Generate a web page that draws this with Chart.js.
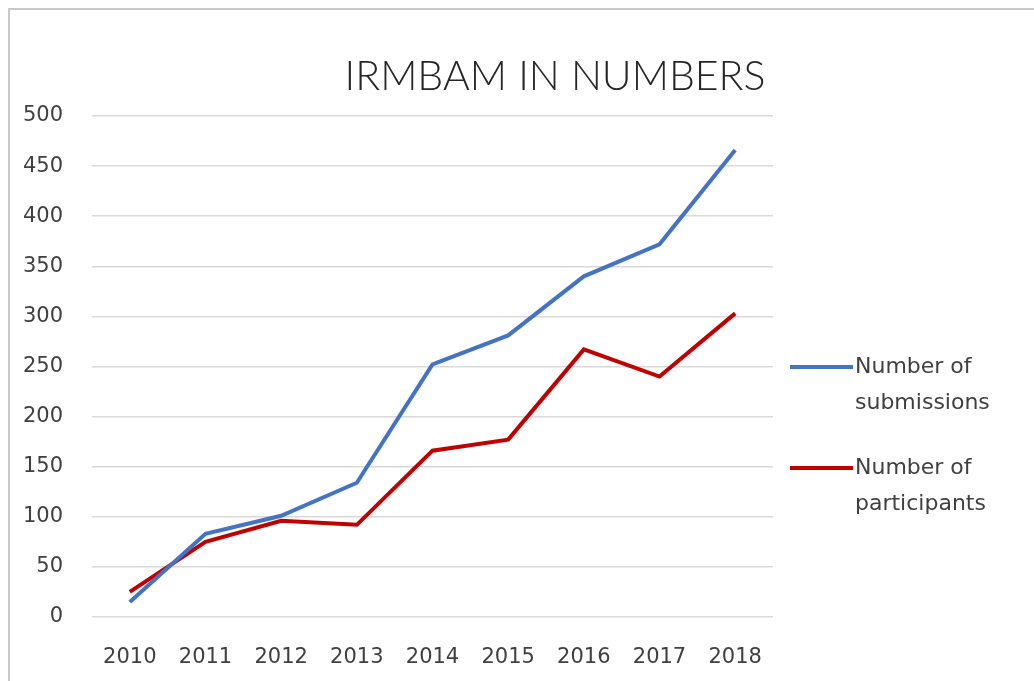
<!DOCTYPE html>
<html>
<head>
<meta charset="utf-8">
<script src="https://cdn.jsdelivr.net/npm/chart.js@4"></script>
<style>
  html, body { margin: 0; padding: 0; background: #fff; }
  #frame {
    position: absolute; left: 8px; top: 8px; width: 1100px; height: 720px;
    border-left: 2px solid #c8c8c8; border-top: 2px solid #c8c8c8;
  }
  #wrap { position: absolute; left: 0; top: 0; width: 1034px; height: 681px; }
</style>
</head>
<body>
<div id="frame"></div>
<div id="wrap"><canvas id="chart"></canvas></div>
<script>
const years = ['2010', '2011', '2012', '2013', '2014', '2015', '2016', '2017', '2018'];
const submissions = [15, 83, 101, 134, 252, 281, 340, 372, 466];
const participants = [25, 75, 96, 92, 166, 177, 267, 240, 303];
const seriesNames = [['Number of', 'submissions'], ['Number of', 'participants']];
const chartTitle = 'IRMBAM IN NUMBERS';

const titleFont = 'Lato, "Open Sans", sans-serif';
const fontFamily = '"DejaVu Sans", sans-serif';
const textColor = '#404040';

// titre + légende dessinés à la main (légende sur deux lignes comme Excel)
const excelLook = {
    id: 'excelLook',
    afterDraw(chart) {
        const c = chart.ctx;
        const area = chart.chartArea;
        c.save();
        c.fillStyle = '#262626';
        c.font = '300 41px ' + titleFont;
        c.textAlign = 'center';
        c.textBaseline = 'alphabetic';
        c.fillText(chartTitle, 555, 90);

        c.font = '22px ' + fontFamily;
        c.textAlign = 'left';
        c.textBaseline = 'middle';
        chart.data.datasets.forEach((ds, i) => {
            const y = [367, 468][i];
            c.strokeStyle = ds.borderColor;
            c.lineWidth = 4;
            c.beginPath();
            c.moveTo(area.right + 17, y);
            c.lineTo(area.right + 80, y);
            c.stroke();
            c.fillStyle = textColor;
            seriesNames[i].forEach((t, j) => c.fillText(t, area.right + 82, y + j * 36));
        });
        c.restore();
    }
};

new Chart(document.getElementById('chart').getContext('2d'), {
    type: 'line',
    data: {
        labels: years,
        datasets: [
            { label: 'Number of submissions', data: submissions, borderColor: '#4472C4' },
            { label: 'Number of participants', data: participants, borderColor: '#C00000' }
        ]
    },
    options: {
        responsive: true,
        maintainAspectRatio: false,
        animation: false,
        layout: { padding: { left: 0, top: 116, right: 261, bottom: 0 } },
        elements: {
            line: { borderWidth: 4, tension: 0, fill: false },
            point: { radius: 0 }
        },
        scales: {
            x: {
                offset: true,
                grid: { display: false },
                border: { display: false },
                ticks: { color: textColor, font: { family: fontFamily, size: 21 }, padding: 20 },
                afterFit: s => { s.height = 64; }
            },
            y: {
                min: 0,
                max: 500,
                grid: { color: '#d9d9d9', lineWidth: 1.5, drawTicks: false },
                border: { display: false },
                ticks: { stepSize: 50, color: textColor, font: { family: fontFamily, size: 21 }, padding: 29 },
                afterFit: s => { s.width = 92; }
            }
        },
        plugins: {
            legend: { display: false },
            title: { display: false },
            tooltip: { enabled: false }
        }
    },
    plugins: [excelLook]
});
</script>
</body>
</html>
